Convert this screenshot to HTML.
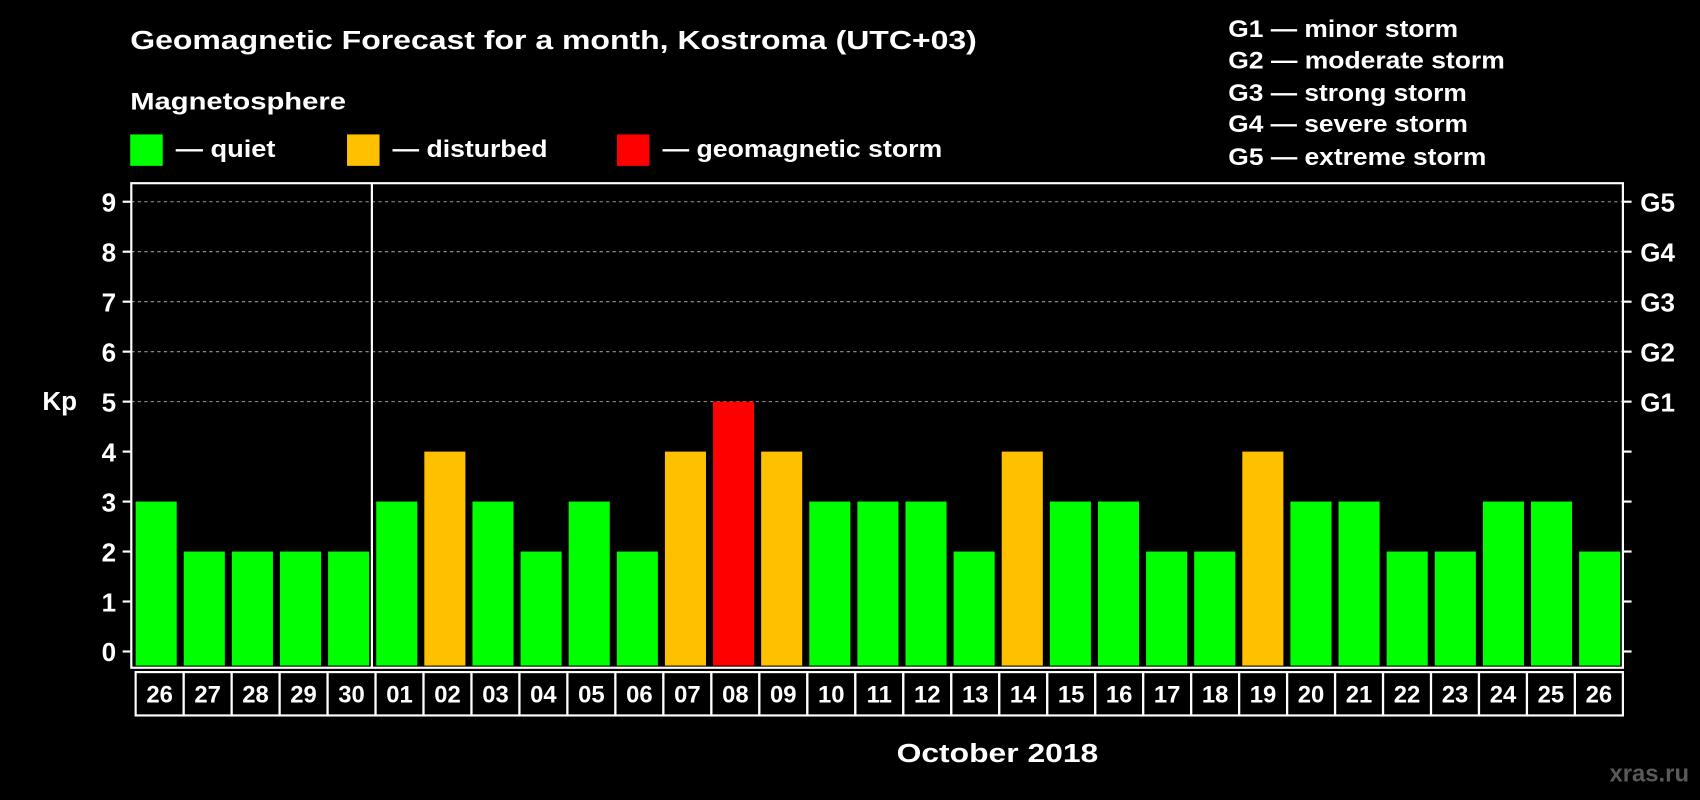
<!DOCTYPE html>
<html><head><meta charset="utf-8"><style>
html,body{margin:0;padding:0;background:#000;}
svg{display:block;}
text{font-family:"Liberation Sans",Arial,sans-serif;font-weight:bold;fill:#fff;}
</style></head><body>
<svg id="chart" width="1700" height="800" viewBox="0 0 1568 738" xmlns="http://www.w3.org/2000/svg">
<rect x="0" y="0" width="1568" height="738" fill="#000"/>
<text x="120" y="45" font-size="24" textLength="781" lengthAdjust="spacingAndGlyphs">Geomagnetic Forecast for a month, Kostroma (UTC+03)</text>
<text x="120" y="101" font-size="22" textLength="199" lengthAdjust="spacingAndGlyphs">Magnetosphere</text>
<g><rect x="120" y="124" width="30" height="29" fill="#00ff00"/><text x="162" y="145" font-size="22" textLength="92" lengthAdjust="spacingAndGlyphs">— quiet</text></g>
<g><rect x="320" y="124" width="30" height="29" fill="#ffc000"/><text x="362" y="145" font-size="22" textLength="143" lengthAdjust="spacingAndGlyphs">— disturbed</text></g>
<g><rect x="569" y="124" width="30" height="29" fill="#ff0000"/><text x="611" y="145" font-size="22" textLength="258" lengthAdjust="spacingAndGlyphs">— geomagnetic storm</text></g>
<g font-size="22">
<text x="1133" y="34" textLength="212" lengthAdjust="spacingAndGlyphs">G1 — minor storm</text>
<text x="1133" y="63" textLength="255" lengthAdjust="spacingAndGlyphs">G2 — moderate storm</text>
<text x="1133" y="93" textLength="220" lengthAdjust="spacingAndGlyphs">G3 — strong storm</text>
<text x="1133" y="122" textLength="221" lengthAdjust="spacingAndGlyphs">G4 — severe storm</text>
<text x="1133" y="152" textLength="238" lengthAdjust="spacingAndGlyphs">G5 — extreme storm</text>
</g>
<g id="plot"></g>
<text x="39" y="378" font-size="24">Kp</text>
<text x="920" y="703" font-size="24" text-anchor="middle" textLength="186" lengthAdjust="spacingAndGlyphs">October 2018</text>
<text x="1558" y="721" font-size="22" text-anchor="end" fill="#555" style="fill:#5a5a5a">xras.ru</text>
</svg>
<script>
const days = ["26","27","28","29","30","01","02","03","04","05","06","07","08","09","10","11","12","13","14","15","16","17","18","19","20","21","22","23","24","25","26"];
const kp = [3,2,2,2,2,3,4,3,2,3,2,4,5,4,3,3,3,2,4,3,3,2,2,4,3,3,2,2,3,3,2];
const yTicks = [0,1,2,3,4,5,6,7,8,9];
const gLabels = ["G1","G2","G3","G4","G5"];
const NS="http://www.w3.org/2000/svg";
const L=121,R=1497,T=169,B=616;
const y0=601,unit=46.1;
const Y=v=>y0-v*unit;
const slot=(R-L)/days.length;
const X=i=>L+i*slot;
const g=document.getElementById('plot');
function mk(t,a){const e=document.createElementNS(NS,t);for(const k in a)e.setAttribute(k,a[k]);g.appendChild(e);return e;}
const color=v=>v>=5?"#ff0000":(v>=4?"#ffc000":"#00ff00");
// grid
yTicks.forEach(v=>{ if(v>=5){const l=mk('line',{x1:L,x2:R,y1:Y(v),y2:Y(v),stroke:'#999','stroke-dasharray':'3,3','stroke-width':1});

}});
// bars
kp.forEach((v,i)=>{const r=mk('rect',{x:X(i)+4,y:Y(v),width:slot-6.5,height:B-2-Y(v),fill:color(v)});

});
// frame
const f=mk('rect',{x:L,y:T,width:R-L,height:B-T,fill:'none',stroke:'#fff','stroke-width':2});


const sep=mk('line',{x1:X(5),x2:X(5),y1:T,y2:B,stroke:'#fff','stroke-width':2});


// y ticks
yTicks.forEach(v=>{
 mk('line',{x1:L-8,x2:L,y1:Y(v),y2:Y(v),stroke:'#fff','stroke-width':2});
 mk('line',{x1:R,x2:R+8,y1:Y(v),y2:Y(v),stroke:'#fff','stroke-width':2});
 const t=mk('text',{x:L-14,y:Y(v)+9,'font-size':24,'text-anchor':'end'});t.textContent=v;
 
 
});
gLabels.forEach((s,k)=>{const t=mk('text',{x:R+16,y:Y(5+k)+9,'font-size':24});t.textContent=s;
 
 });
// x labels
const bx0=125,bw=(R-bx0)/days.length;
days.forEach((d,i)=>{
 const r=mk('rect',{x:bx0+i*bw,y:620,width:bw,height:40,fill:'none',stroke:'#fff','stroke-width':2});
 
 
 const t=mk('text',{x:bx0+i*bw+bw/2,y:648,'font-size':22,'text-anchor':'middle'});t.textContent=d;
 
 
});
</script>
</body></html>
